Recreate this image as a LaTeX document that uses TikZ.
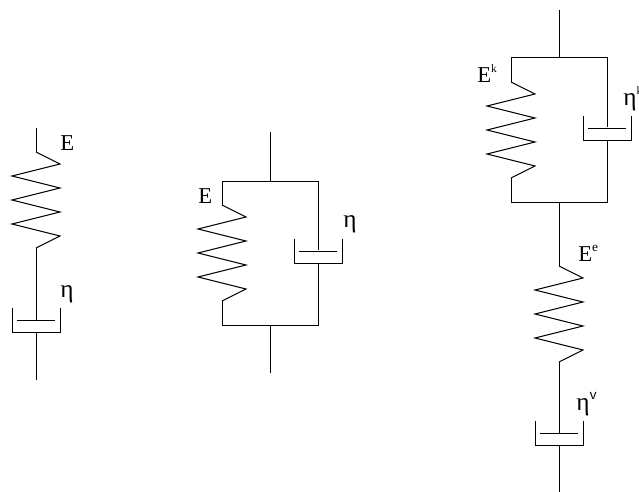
\documentclass[tikz,border=0pt]{standalone}
\usepackage{fontspec}
\setmainfont{Liberation Serif}
\tikzset{>=latex}
\tikzset{
  link/.style={line width=0.75pt,black},
  lab/.style={inner sep=0pt,anchor=base west,font=\fontsize{17}{18}\selectfont},
  eta/.style={lab,font=\fontsize{19}{20}\selectfont},
}
% spring hanging from (#1,#2), 96 units long
\newcommand{\Spring}[2]{%
  \draw[link] (#1,#2) -- ++(24,12) -- ++(-48,12) -- ++(48,12) -- ++(-48,12)
    -- ++(48,12) -- ++(-48,12) -- ++(48,12) -- ++(-24,12);
}
% dashpot with its plate at (#1,#2)
\newcommand{\Dashpot}[2]{%
  \draw[link] (#1-19,#2) -- (#1+19,#2);
  \draw[link] (#1-24,#2-12) -- (#1-24,#2+12) -- (#1+24,#2+12) -- (#1+24,#2-12);
}
% raised small letter: size, lift, text
\newcommand{\Sup}[3]{\raisebox{#2}{\fontsize{#1}{#1}\selectfont #3}}
\begin{document}
\begin{tikzpicture}[x=0.75pt,y=-0.75pt]
  \clip (0,0) rectangle (639,492);
  % series
  \draw[link] (36,128) -- (36,152);
  \Spring{36}{152}
  \draw[link] (36,248) -- (36,320);
  \Dashpot{36}{320}
  \draw[link] (36,332) -- (36,380);
  \node[lab] (Eone) at (60,150) {E};
  \node[eta] (etaone) at (60,297) {η};
  % parallel
  \draw[link] (270,132) -- (270,181);
  \draw[link] (222,205) -- (222,181) -- (318,181) -- (318,250);
  \Spring{222}{205}
  \draw[link] (222,301) -- (222,325) -- (318,325) -- (318,263);
  \Dashpot{318}{251}
  \draw[link] (270,325) -- (270,373);
  \node[lab] (Etwo) at (198,203) {E};
  \node[eta] (etatwo) at (343,227) {η};
  % both in a row
  \draw[link] (559,10) -- (559,58);
  \draw[link] (511,82) -- (511,58) -- (607,58) -- (607,127);
  \Spring{511}{82}
  \draw[link] (511,178) -- (511,202) -- (607,202) -- (607,140);
  \Dashpot{607}{128}
  \draw[link] (559,202) -- (559,266);
  \node[lab] (Ek) at (477,83) {E\Sup{8.5}{8pt}{k}};
  \node[eta] (etak) at (623,105) {η\Sup{8.5}{8pt}{k}};
  \Spring{559}{266}
  \node[lab] (Ee) at (578,261) {E\Sup{10}{7pt}{e}};
  \draw[link] (559,362) -- (559,433);
  \Dashpot{559}{433}
  \draw[link] (559,446) -- (559,492);
  \node[eta] (etav) at (576,410) {η\Sup{12}{8pt}{\sffamily v}};
\end{tikzpicture}
\end{document}
